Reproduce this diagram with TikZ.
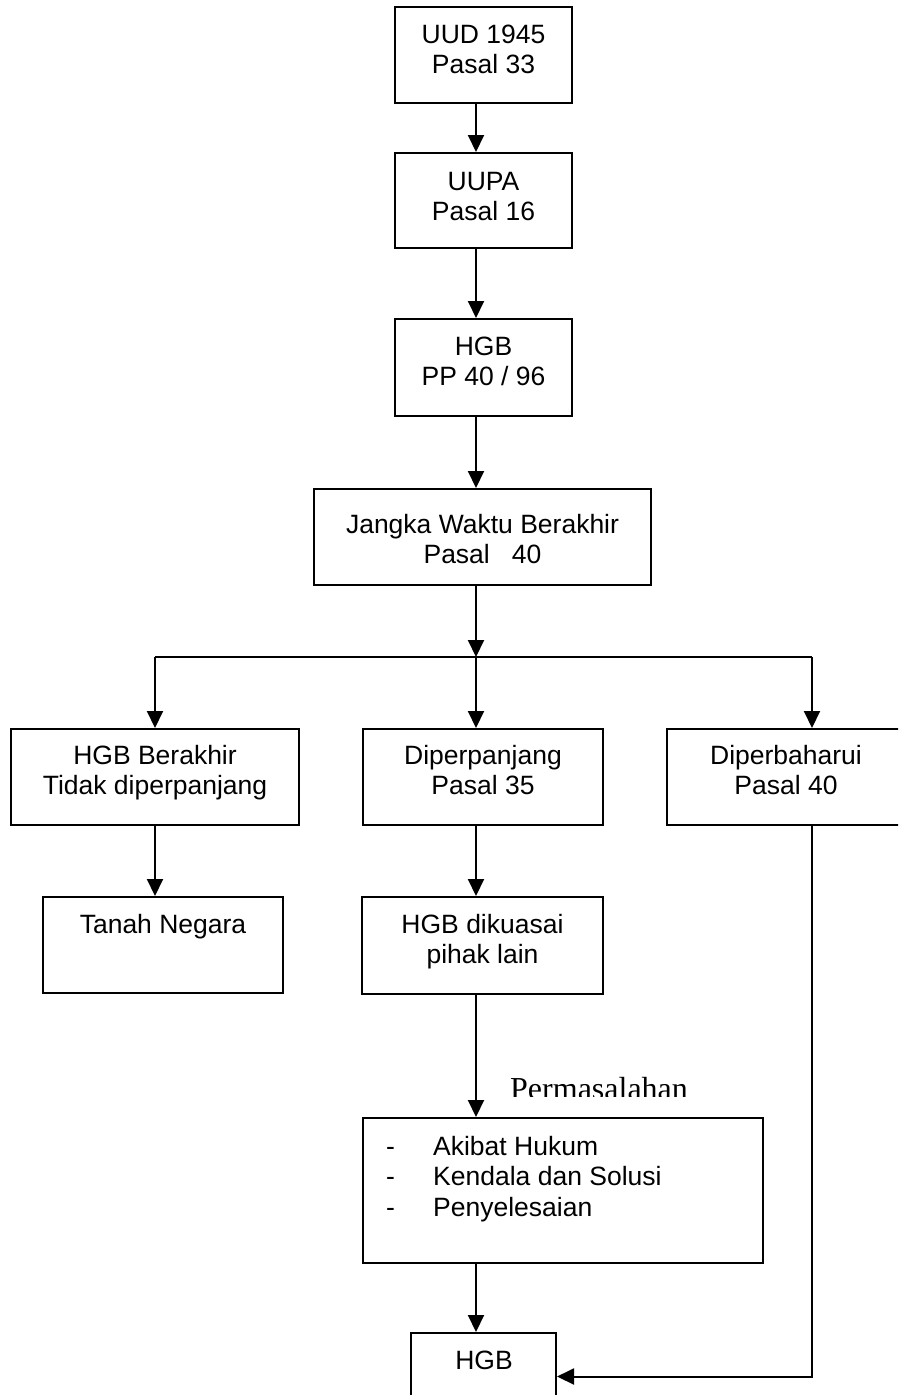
\documentclass[tikz,border=0pt]{standalone}
\usepackage{fontspec}
\setmainfont{Liberation Sans}
\newfontfamily\timesfont{Liberation Serif}
\usetikzlibrary{arrows.meta}
\begin{document}
\begin{tikzpicture}[x=1pt,y=-1pt,
  box/.style={draw, line width=2pt, inner sep=0pt},
  txt/.style={anchor=north, inner sep=0pt, align=center, font=\fontsize{26.5}{30.5}\selectfont},
  conn/.style={line width=2pt},
  arr/.style={line width=2pt, -{Triangle[length=17pt,width=16pt]}}]
\useasboundingbox (0,0) rectangle (898,1395);
\clip (0,0) rectangle (898,1395);
% boxes
\node[box, minimum width=177pt, minimum height=96pt] (uud) at (483.5,55) {};
\node[box, minimum width=177pt, minimum height=95pt] (uupa) at (483.5,200.5) {};
\node[box, minimum width=177pt, minimum height=97pt] (hgb) at (483.5,367.5) {};
\node[box, minimum width=337pt, minimum height=96pt] (jangka) at (482.5,537) {};
\node[box, minimum width=288pt, minimum height=96pt] (berakhir) at (155,777) {};
\node[box, minimum width=240pt, minimum height=96pt] (diperpanjang) at (483,777) {};
\node[box, minimum width=238pt, minimum height=96pt] (diperbaharui) at (786,777) {};
\node[box, minimum width=240pt, minimum height=96pt] (tanah) at (163,945) {};
\node[box, minimum width=241pt, minimum height=97pt] (dikuasai) at (482.5,945.5) {};
\node[box, minimum width=400pt, minimum height=145pt] (akibat) at (563,1190.5) {};
\node[box, minimum width=145pt, minimum height=87pt] (hgbb) at (483.5,1376.5) {};
% texts
\node[txt] (tuud) at (483.5,22) {\rule{0pt}{21pt}UUD 1945\\Pasal 33};
\node[txt] (tuupa) at (483.5,169) {\rule{0pt}{21pt}UUPA\\Pasal 16};
\node[txt] (thgb) at (483.5,334) {\rule{0pt}{21pt}HGB\\PP 40 / 96};
\node[txt] (tjangka) at (482.5,512) {\rule{0pt}{21pt}Jangka Waktu Berakhir\\Pasal\ \ \ 40};
\node[txt] (tberakhir) at (155,743) {\rule{0pt}{21pt}HGB Berakhir\\Tidak diperpanjang};
\node[txt] (tdiperpanjang) at (483,743) {\rule{0pt}{21pt}Diperpanjang\\Pasal 35};
\node[txt] (tdiperbaharui) at (786,743) {\rule{0pt}{21pt}Diperbaharui\\Pasal 40};
\node[txt] (ttanah) at (163,912) {\rule{0pt}{21pt}Tanah Negara};
\node[txt] (tdikuasai) at (482.5,912) {\rule{0pt}{21pt}HGB dikuasai\\pihak lain};
\node[txt, anchor=north west, align=left] (takibat) at (386,1134)
  {\rule{0pt}{21pt}\makebox[47pt][l]{-}Akibat Hukum\\\makebox[47pt][l]{-}Kendala dan Solusi\\\makebox[47pt][l]{-}Penyelesaian};
\node[txt] (thgbb) at (484,1348) {\rule{0pt}{21pt}HGB};
\begin{scope}
\clip (0,0) rectangle (898,1096.5);
\node[anchor=base west, inner sep=0pt, font=\timesfont\fontsize{32}{36}\selectfont] (perm) at (510,1099) {Permasalahan};
\end{scope}
% coordinates
\coordinate (ax) at (476,0);
\coordinate (bl) at (155,657);
\coordinate (bm) at (476,657);
\coordinate (br) at (812,657);
% connectors
\draw[arr] (uud.south -| ax) -- (uupa.north -| ax);
\draw[arr] (uupa.south -| ax) -- (hgb.north -| ax);
\draw[arr] (hgb.south -| ax) -- (jangka.north -| ax);
\draw[arr] (jangka.south -| ax) -- (bm);
\draw[conn] (bl) -- (br);
\draw[arr] (bl) -- (berakhir.north -| bl);
\draw[arr] (bm) -- (diperpanjang.north -| bm);
\draw[arr] (br) -- (diperbaharui.north -| br);
\draw[arr] (berakhir.south -| bl) -- (tanah.north -| bl);
\draw[arr] (diperpanjang.south -| ax) -- (dikuasai.north -| ax);
\draw[arr] (dikuasai.south -| ax) -- (akibat.north -| ax);
\draw[arr] (akibat.south -| ax) -- (hgbb.north -| ax);
\draw[arr] (diperbaharui.south -| br) |- (hgbb.east);
\end{tikzpicture}
\end{document}
